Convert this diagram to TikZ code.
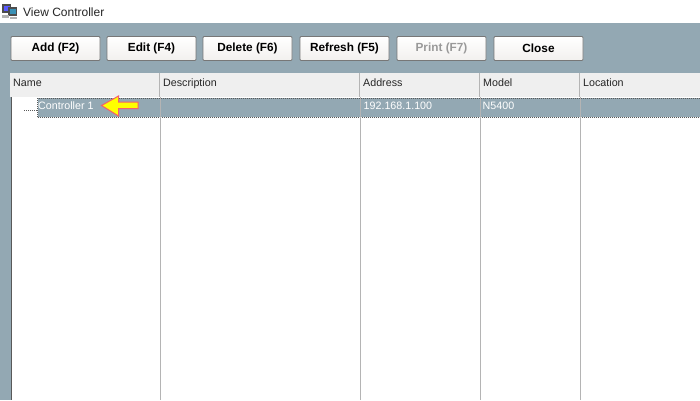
\documentclass[tikz,border=0pt]{standalone}
\usepackage{fontspec}
\setmainfont{Liberation Sans}
\definecolor{panel}{HTML}{93A8B3}
\definecolor{headbg}{HTML}{EFEFEF}
\definecolor{sep}{HTML}{B4B4B4}
\definecolor{btnedge}{HTML}{777777}
\definecolor{btnlow}{HTML}{F2F0EE}
\definecolor{arrowedge}{HTML}{F4606A}
\definecolor{arrowfill}{HTML}{FFFF00}
\tikzset{
  btn/.style={draw=btnedge,line width=0.9pt,top color=white,bottom color=btnlow,rounded corners=1pt,minimum width=89pt,minimum height=24pt,inner sep=0pt,font=\fontsize{11.8}{13}\selectfont\bfseries,text=black},
  hdr/.style={anchor=base west,inner sep=0pt,font=\fontsize{10.7}{12}\selectfont,text=black!85},
  cell/.style={anchor=base west,inner sep=0pt,font=\fontsize{10.7}{12}\selectfont,text=white},
  colline/.style={draw=sep,line width=1pt},
  dots/.style={draw=black!65,line width=0.8pt,dash pattern=on 1pt off 1pt},
}
\begin{document}
\begin{tikzpicture}[x=1pt,y=-1pt]
\useasboundingbox (0,0) rectangle (700,400);
\fill[white] (0,0) rectangle (700,23);
\fill[panel] (0,23) rectangle (700,400);
% title icon
\fill[black!70] (2,4) rectangle (11,13);
\fill[blue!65] (3.5,5.5) rectangle (9.5,10.5);
\fill[black!70] (8,7) rectangle (17,16);
\fill[cyan!70!black] (9.5,8.5) rectangle (15.5,13.5);
\fill[gray!60] (2,15) rectangle (9,18);
\fill[gray!60] (10,17) rectangle (17,19);
\node[anchor=base west,inner sep=0pt,font=\fontsize{12}{13}\selectfont,text=black!85] (title) at (23,16) {View Controller};
% buttons
\node[btn] (add) at (55.5,48.5) {Add (F2)};
\node[btn] (edit) at (151.5,48.5) {Edit (F4)};
\node[btn] (delete) at (247.5,48.5) {Delete (F6)};
\node[btn] (refresh) at (344.5,48.5) {Refresh (F5)};
\node[btn,text=gray!80] (print) at (441.5,48.5) {Print (F7)};
\node[btn] (close) at (538.5,48.5) {Close};
% list
\fill[white] (11,97) rectangle (700,400);
\fill[headbg] (10,73) rectangle (700,97);
\draw[gray!70!black,line width=1pt] (11.5,97) -- (11.5,400);
\fill[panel] (37.5,98) rectangle (700,117);
\draw[dots] (37.5,117) -- (37.5,98) -- (700,98);
\draw[dots] (37.5,117) -- (700,117);
\draw[dots] (24,110) -- (37,110);
\foreach \x in {160,360,480,580} {
  \draw[colline] (\x.5,97) -- (\x.5,400);
  \draw[colline] (\x-.5,73) -- (\x-.5,97);
}
% header labels
\node[hdr] (hname) at (13,86) {Name};
\node[hdr] (hdesc) at (163,86) {Description};
\node[hdr] (haddr) at (363,86) {Address};
\node[hdr] (hmodel) at (483,86) {Model};
\node[hdr] (hloc) at (583,86) {Location};
% row
\node[cell] (c1) at (38,109.5) {Controller 1};
\node[cell] (c2) at (363.5,109.5) {192.168.1.100};
\node[cell] (c3) at (482.5,109.5) {N5400};
% arrow
\draw[draw=arrowedge,fill=arrowfill,line width=1pt,line join=miter]
  (101.5,105.5) -- (118.5,96) -- (118.5,102) -- (138,102) -- (138,108.5) -- (118.5,108.5) -- (118.5,116) -- cycle;
\end{tikzpicture}
\end{document}
